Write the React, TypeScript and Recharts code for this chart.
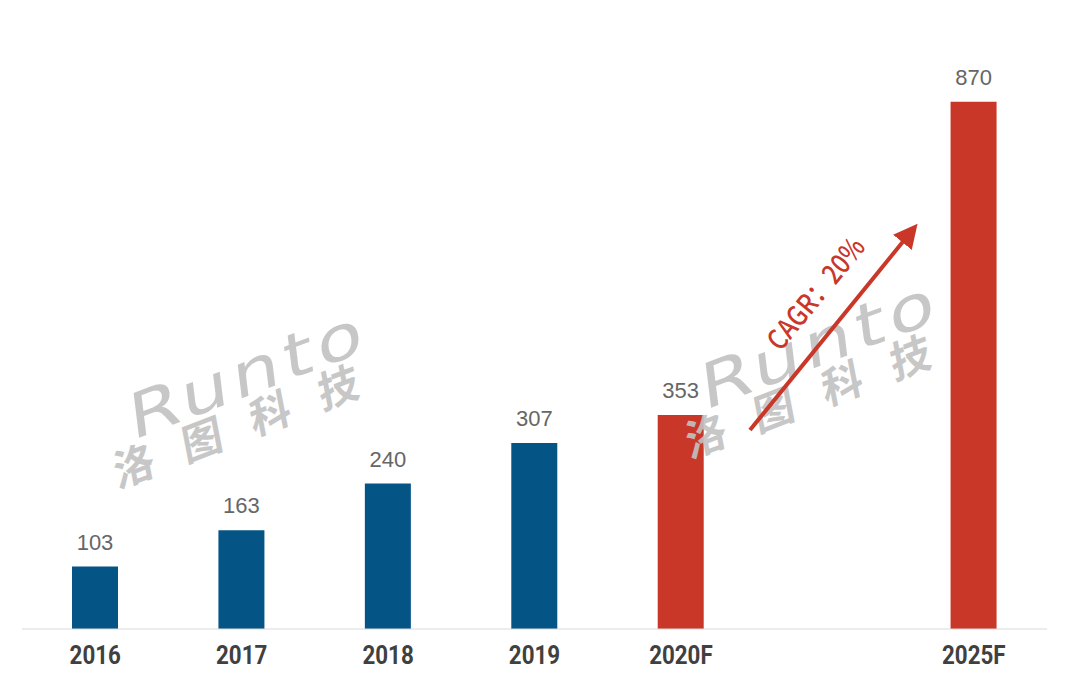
import React from 'react';
import { BarChart, Bar, XAxis, YAxis, Cell, LabelList } from 'recharts';

const categories = ['2016', '2017', '2018', '2019', '2020F', '', '2025F'];
const values: (number | null)[] = [103, 163, 240, 307, 353, null, 870];
const forecast = [false, false, false, false, true, false, true];
const cagrText = 'CAGR：20%';

const BLUE = '#045486';
const RED = '#C93729';

const data = categories.map((c, i) => ({ cat: c, value: values[i], f: forecast[i] }));

const W = 1071;
const H = 683;

const Tick = (props: any) => {
  const { x, y, payload } = props;
  return (
    <text
      transform={`translate(${x},${y + 27}) scale(0.86,1)`}
      textAnchor="middle"
      fill="#404040"
      fontSize={26}
      fontWeight={700}
      fontFamily="Roboto, sans-serif"
    >
      {payload.value}
    </text>
  );
};

const Watermark = ({ rx, ry, cx, cy }: { rx: number; ry: number; cx: number; cy: number }) => (
  <g fill="#c2c2c2" opacity={0.9}>
    <text
      x={0}
      y={0}
      transform={`translate(${rx},${ry}) rotate(-21) skewX(-14) scale(1.3,1)`}
      textAnchor="middle"
      dominantBaseline="central"
      fontFamily="'DejaVu Sans', sans-serif"
      fontSize={60}
      letterSpacing={4}
    >
      Runto
    </text>
    <text
      x={0}
      y={0}
      transform={`translate(${cx},${cy}) rotate(-21) skewX(-10)`}
      textAnchor="middle"
      dominantBaseline="central"
      fontFamily="'Noto Sans CJK SC', sans-serif"
      fontWeight={700}
      fontSize={42}
      letterSpacing={31}
    >
      洛图科技
    </text>
  </g>
);

export default function App() {
  return (
    <div style={{ position: 'absolute', left: 0, top: 0, width: W, height: H, background: '#fff' }}>
      <BarChart
        width={W}
        height={H}
        data={data}
        margin={{ top: 23, right: 24, bottom: 0, left: 22 }}
        barSize={46}
      >
        <YAxis hide domain={[0, 1000]} />
        <XAxis
          dataKey="cat"
          height={54}
          axisLine={{ stroke: '#d9d9d9', strokeWidth: 1 }}
          tickLine={false}
          interval={0}
          tick={<Tick />}
        />
        <Bar dataKey="value" isAnimationActive={false}>
          {data.map((d, i) => (
            <Cell key={i} fill={d.f ? RED : BLUE} />
          ))}
          <LabelList
            dataKey="value"
            position="top"
            offset={17}
            fill="#666666"
            fontSize={22}
            fontFamily="'Liberation Sans', Arial, sans-serif"
          />
        </Bar>
      </BarChart>
      <svg
        width={W}
        height={H}
        style={{ position: 'absolute', left: 0, top: 0, pointerEvents: 'none' }}
      >
        <Watermark rx={248} ry={374} cx={250} cy={418} />
        <Watermark rx={820} ry={344} cx={822} cy={388} />
        <defs>
          <marker id="ah" markerWidth="6" markerHeight="6" refX="3" refY="3" orient="auto" markerUnits="strokeWidth">
            <path d="M0,0 L6,3 L0,6 z" fill={RED} />
          </marker>
        </defs>
        <line x1={750} y1={430} x2={910} y2={233} stroke={RED} strokeWidth={4} markerEnd="url(#ah)" />
        <text
          x={0}
          y={0}
          transform="translate(814,292) rotate(-50.6) scale(0.85,1)"
          textAnchor="middle"
          dominantBaseline="central"
          fill={RED}
          fontSize={28}
          fontWeight={500}
          fontFamily="'Noto Sans CJK SC', sans-serif"
        >
          {cagrText}
        </text>
      </svg>
    </div>
  );
}
